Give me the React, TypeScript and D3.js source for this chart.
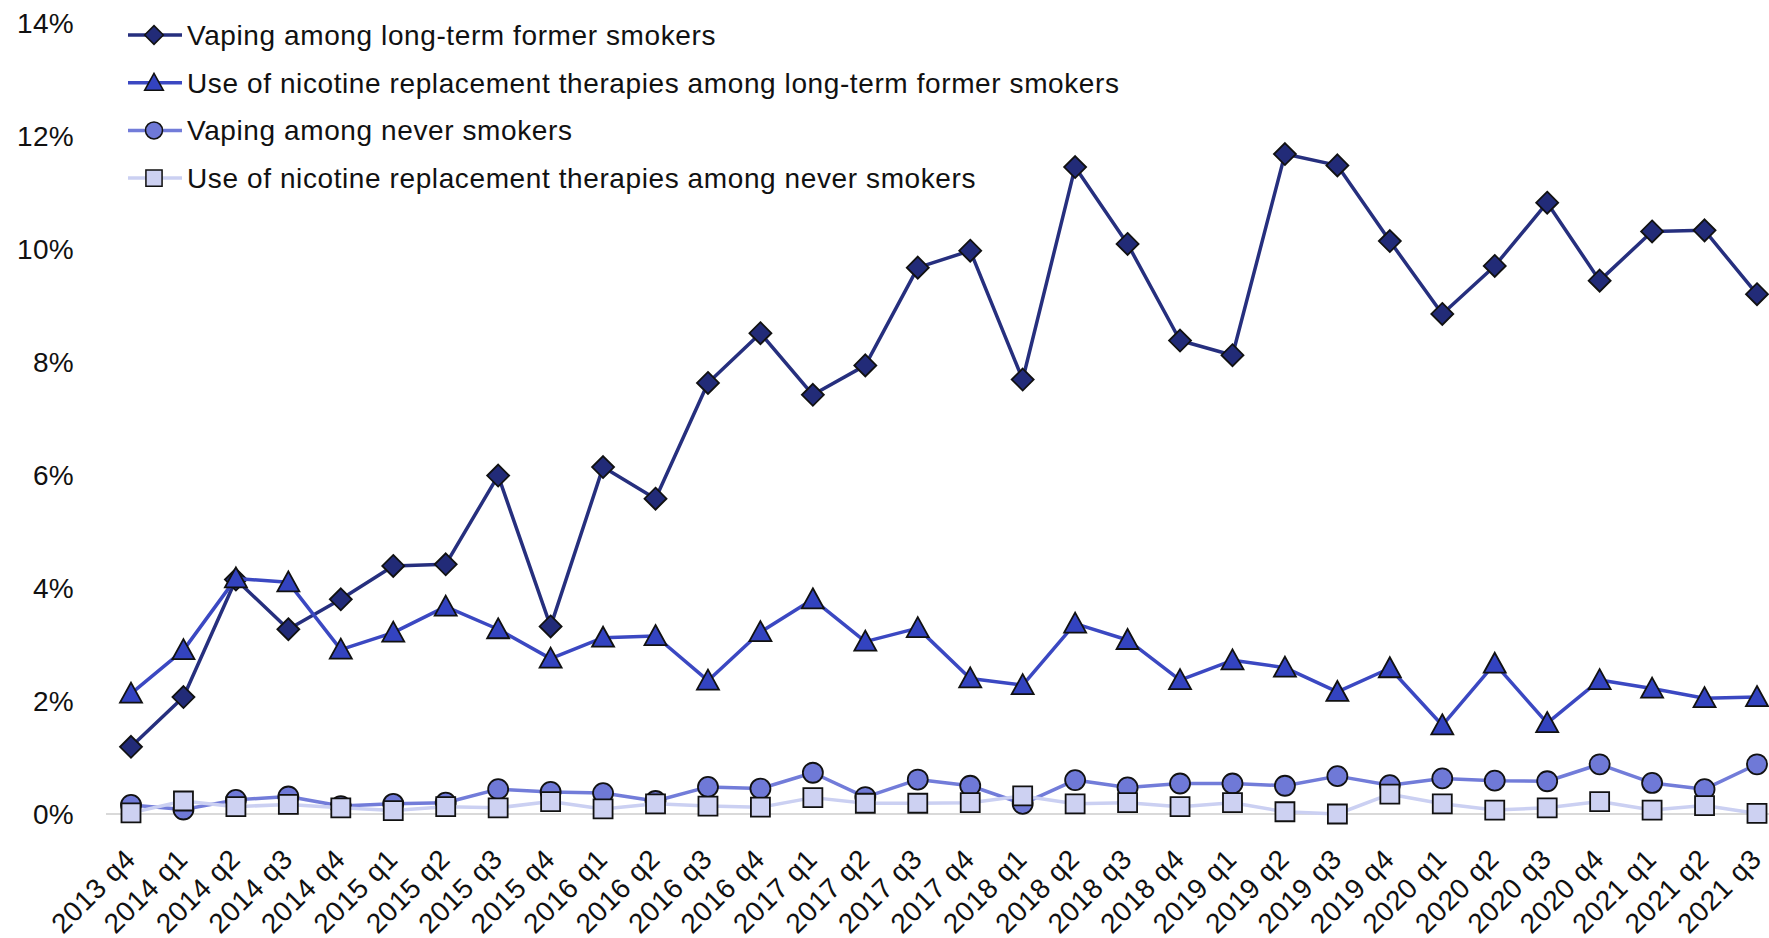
import React, { useEffect, useRef } from "react";
import * as d3 from "d3";

const quarters = [
  "2013 q4",
  "2014 q1", "2014 q2", "2014 q3", "2014 q4",
  "2015 q1", "2015 q2", "2015 q3", "2015 q4",
  "2016 q1", "2016 q2", "2016 q3", "2016 q4",
  "2017 q1", "2017 q2", "2017 q3", "2017 q4",
  "2018 q1", "2018 q2", "2018 q3", "2018 q4",
  "2019 q1", "2019 q2", "2019 q3", "2019 q4",
  "2020 q1", "2020 q2", "2020 q3", "2020 q4",
  "2021 q1", "2021 q2", "2021 q3",
];

// values in %
const vapingFormer = [
  1.19, 2.07, 4.15, 3.27, 3.80, 4.39, 4.42, 5.99, 3.32, 6.14, 5.58, 7.63, 8.51,
  7.42, 7.94, 9.67, 9.97, 7.69, 11.45, 10.09, 8.38, 8.12, 11.68, 11.48, 10.14,
  8.85, 9.70, 10.82, 9.44, 10.31, 10.33, 9.20,
];
const nrtFormer = [
  2.13, 2.90, 4.17, 4.10, 2.91, 3.21, 3.67, 3.27, 2.75, 3.12, 3.15, 2.36, 3.22,
  3.80, 3.05, 3.29, 2.40, 2.28, 3.37, 3.08, 2.37, 2.72, 2.59, 2.16, 2.58, 1.57,
  2.66, 1.61, 2.37, 2.22, 2.05, 2.07,
];
const vapingNever = [
  0.16, 0.08, 0.25, 0.31, 0.14, 0.18, 0.20, 0.44, 0.39, 0.37, 0.23, 0.48, 0.45,
  0.73, 0.30, 0.61, 0.50, 0.18, 0.60, 0.47, 0.54, 0.54, 0.50, 0.67, 0.51, 0.63,
  0.59, 0.58, 0.88, 0.55, 0.44, 0.88,
];
const nrtNever = [
  0.02, 0.23, 0.13, 0.17, 0.11, 0.06, 0.13, 0.11, 0.22, 0.09, 0.18, 0.14, 0.12,
  0.29, 0.19, 0.19, 0.20, 0.32, 0.18, 0.20, 0.13, 0.20, 0.04, 0.00, 0.35, 0.18,
  0.07, 0.11, 0.22, 0.07, 0.15, 0.01,
];

const seriesNames = [
  "Vaping among long-term former smokers",
  "Use of nicotine replacement therapies among long-term former smokers",
  "Vaping among never smokers",
  "Use of nicotine replacement therapies among never smokers",
];
const yTicks = [0, 2, 4, 6, 8, 10, 12, 14];

const W = 1769;
const H = 938;
const FONT = "'Liberation Sans', Arial, sans-serif";

type Shape = "diamond" | "triangle" | "circle" | "square";

function markerPath(shape: Shape) {
  if (shape === "diamond") return "M0,-11L11,0L0,11L-11,0Z";
  if (shape === "triangle") return "M0,-11L11,9L-11,9Z";
  if (shape === "square") return "M-9.5,-9.5H9.5V9.5H-9.5Z";
  return d3.symbol(d3.symbolCircle, Math.PI * 100)() as string;
}

export default function App() {
  const ref = useRef<SVGSVGElement>(null);

  useEffect(() => {
    const svg = d3.select(ref.current);
    svg.selectAll("*").remove();

    const x = d3.scalePoint<string>().domain(quarters).range([131, 1757]);
    const y = d3.scaleLinear().domain([0, 14]).range([814, 23]);

    const series = [
      { name: seriesNames[0], values: vapingFormer, line: "#262f7e", fill: "#222b78", shape: "diamond" as Shape },
      { name: seriesNames[1], values: nrtFormer, line: "#3b48c2", fill: "#3343c0", shape: "triangle" as Shape },
      { name: seriesNames[2], values: vapingNever, line: "#727cd9", fill: "#6f79d7", shape: "circle" as Shape },
      { name: seriesNames[3], values: nrtNever, line: "#cbd0f2", fill: "#cdd1f2", shape: "square" as Shape },
    ];

    // baseline
    svg.append("line")
      .attr("x1", 106).attr("x2", W)
      .attr("y1", y(0)).attr("y2", y(0))
      .attr("stroke", "#d9d9d9").attr("stroke-width", 2);

    // y axis labels
    svg.append("g")
      .selectAll("text")
      .data(yTicks)
      .enter()
      .append("text")
      .attr("x", 74)
      .attr("y", (d: number) => y(d))
      .attr("dy", "0.35em")
      .attr("text-anchor", "end")
      .attr("font-family", FONT)
      .attr("font-size", 28)
      .attr("letter-spacing", 0.3)
      .attr("fill", "#111")
      .text((d: number) => d + "%");

    // x axis labels
    svg.append("g")
      .selectAll("text")
      .data(quarters)
      .enter()
      .append("text")
      .attr("transform", (d: string) => `translate(${(x(d) as number) + 6},${y(0) + 47}) rotate(-45)`)
      .attr("text-anchor", "end")
      .attr("font-family", FONT)
      .attr("font-size", 28)
      .attr("letter-spacing", 0.5)
      .attr("fill", "#111")
      .text((d: string) => d);

    const line = d3.line<number>()
      .x((_d, i) => x(quarters[i]) as number)
      .y((d) => y(d));

    series.forEach((s) => {
      const g = svg.append("g");
      g.append("path")
        .datum(s.values)
        .attr("d", line)
        .attr("fill", "none")
        .attr("stroke", s.line)
        .attr("stroke-width", 3.5)
        .attr("stroke-linejoin", "round");
      g.selectAll("path.mk")
        .data(s.values)
        .enter()
        .append("path")
        .attr("class", "mk")
        .attr("d", markerPath(s.shape))
        .attr("transform", (d: number, i: number) => `translate(${x(quarters[i])},${y(d)})`)
        .attr("fill", s.fill)
        .attr("stroke", "#111")
        .attr("stroke-width", 1.8);
    });

    // legend
    const legend = svg.append("g");
    series.forEach((s, i) => {
      const ly = 35 + i * 47.7;
      legend.append("line")
        .attr("x1", 128).attr("x2", 182)
        .attr("y1", ly).attr("y2", ly)
        .attr("stroke", s.line).attr("stroke-width", 3.5);
      legend.append("path")
        .attr("d", markerPath(s.shape))
        .attr("transform", `translate(154,${ly}) scale(0.85)`)
        .attr("fill", s.fill)
        .attr("stroke", "#111")
        .attr("stroke-width", 1.8);
      legend.append("text")
        .attr("x", 187)
        .attr("y", ly)
        .attr("dy", "0.35em")
        .attr("font-family", FONT)
        .attr("font-size", 28)
        .attr("letter-spacing", 0.6)
        .attr("fill", "#111")
        .text(s.name);
    });
  }, []);

  return (
    <svg
      ref={ref}
      width={W}
      height={H}
      style={{ position: "absolute", left: 0, top: 0, background: "#fff", display: "block" }}
    />
  );
}
